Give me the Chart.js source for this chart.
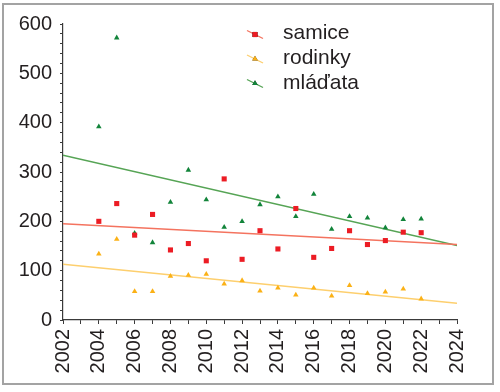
<!DOCTYPE html>
<html><head><meta charset="utf-8">
<script src="https://cdn.jsdelivr.net/npm/chart.js@4"></script>
<style>html,body{margin:0;padding:0;background:#fff}</style>
</head><body>
<canvas id="c" width="500" height="392" style="display:block;width:500px;height:392px"></canvas>
<script>
const years = [2004,2005,2006,2007,2008,2009,2010,2011,2012,2013,2014,2015,2016,2017,2018,2019,2020,2021,2022];
const samice  = [200,236,172,214,142,155,120,286,123,181,144,226,127,145,181,153,161,178,177];
const rodinky = [134,164,58,58,89,91,93,73,80,59,65,51,65,49,70,54,57,63,43];
const mladata = [392,572,176,157,239,304,244,188,200,234,250,210,255,184,210,207,187,204,205];
const trendYears = [2002, 2024];
const samiceTrend  = [195, 153];
const rodinkyTrend = [113, 34];
const mladataTrend = [334, 151];
const seriesLabels = ['samice', 'rodinky', 'mláďata'];
const xLabelYears = [2002,2004,2006,2008,2010,2012,2014,2016,2018,2020,2022,2024];
const yLabelValues = [0,100,200,300,400,500,600];

const markerColors = ['#ec1c24', '#fbb116', '#12843a'];
const lineColors   = ['#f4735f', '#fdcf6e', '#56a455'];
const styles = ['rect', 'triangle', 'triangle'];
const radii = [3.6, 3.2, 3.2];

const pts = (xs, ys) => xs.map((x, i) => ({x, y: ys[i]}));
const seriesData = [samice, rodinky, mladata];
const trendData = [samiceTrend, rodinkyTrend, mladataTrend];

const datasets = [];
seriesData.forEach((d, i) => {
  datasets.push({
    type: 'scatter', label: seriesLabels[i], data: pts(years, d),
    pointStyle: styles[i], pointRadius: radii[i], pointHoverRadius: radii[i],
    backgroundColor: markerColors[i], borderColor: markerColors[i], borderWidth: 0, showLine: false, order: 1
  });
});
trendData.forEach((d, i) => {
  datasets.push({
    type: 'line', label: seriesLabels[i] + ' trend', data: pts(trendYears, d),
    borderColor: lineColors[i], borderWidth: 1.6, pointRadius: 0, fill: false, order: 2
  });
});

const FONT = '"Liberation Sans", Arial, Helvetica, sans-serif';

const frame = {
  id: 'frame',
  beforeDraw(chart) {
    const ctx = chart.ctx;
    ctx.save();
    ctx.fillStyle = '#fff';
    ctx.fillRect(0, 0, chart.width, chart.height);
    ctx.strokeStyle = '#a3a3a3';
    ctx.lineWidth = 2;
    ctx.strokeRect(3, 4, 490, 380);
    ctx.restore();
  }
};

const legendPlugin = {
  id: 'customLegend',
  afterDraw(chart) {
    const ctx = chart.ctx;
    ctx.save();
    seriesLabels.forEach((lab, i) => {
      const my = 34.5 + i * 24.5;
      ctx.strokeStyle = lineColors[i];
      ctx.lineWidth = 1.3;
      ctx.beginPath();
      ctx.moveTo(247, my - 4);
      ctx.lineTo(263, my + 4);
      ctx.stroke();
      Chart.helpers.drawPoint(ctx, {pointStyle: styles[i], radius: radii[i], rotation: 0, borderWidth: 0}, 255, my);
      ctx.fillStyle = markerColors[i];
      ctx.fill();
      ctx.fillStyle = '#231f20';
      ctx.font = '21px ' + FONT;
      ctx.textBaseline = 'alphabetic';
      ctx.textAlign = 'left';
      ctx.fillText(lab, 283, 38.5 + i * 25);
    });
    ctx.restore();
  }
};

new Chart(document.getElementById('c'), {
  data: { datasets },
  plugins: [frame, legendPlugin],
  options: {
    responsive: false,
    animation: false,
    events: [],
    layout: { padding: { left: 0, top: 24, right: 43, bottom: 0 } },
    plugins: { legend: { display: false }, tooltip: { enabled: false } },
    scales: {
      x: {
        type: 'linear', min: 2002, max: 2024,
        afterFit(s) { s.height = 72; },
        afterBuildTicks(s) { s.ticks = []; for (let y = 2002; y <= 2024; y++) s.ticks.push({value: y}); },
        border: { display: true, color: '#3a3a3a', width: 1.2 },
        grid: { drawOnChartArea: false, drawTicks: true, tickLength: 4, color: '#3a3a3a', lineWidth: 1 },
        ticks: {
          autoSkip: false, minRotation: 90, maxRotation: 90, padding: 5,
          color: '#231f20', font: { family: FONT, size: 20 },
          callback: v => xLabelYears.includes(v) ? String(v) : ''
        }
      },
      y: {
        type: 'linear', min: 0, max: 600,
        afterFit(s) { s.width = 63; },
        afterBuildTicks(s) { s.ticks = []; for (let v = 0; v <= 600; v += 20) s.ticks.push({value: v}); },
        border: { display: true, color: '#3a3a3a', width: 1.2 },
        grid: { drawOnChartArea: false, drawTicks: true, tickLength: 3, color: '#3a3a3a', lineWidth: 1 },
        ticks: {
          autoSkip: false, padding: 8,
          color: '#231f20', font: { family: FONT, size: 20 },
          callback: v => yLabelValues.includes(v) ? String(v) : ''
        }
      }
    }
  }
});
</script>
</body></html>
